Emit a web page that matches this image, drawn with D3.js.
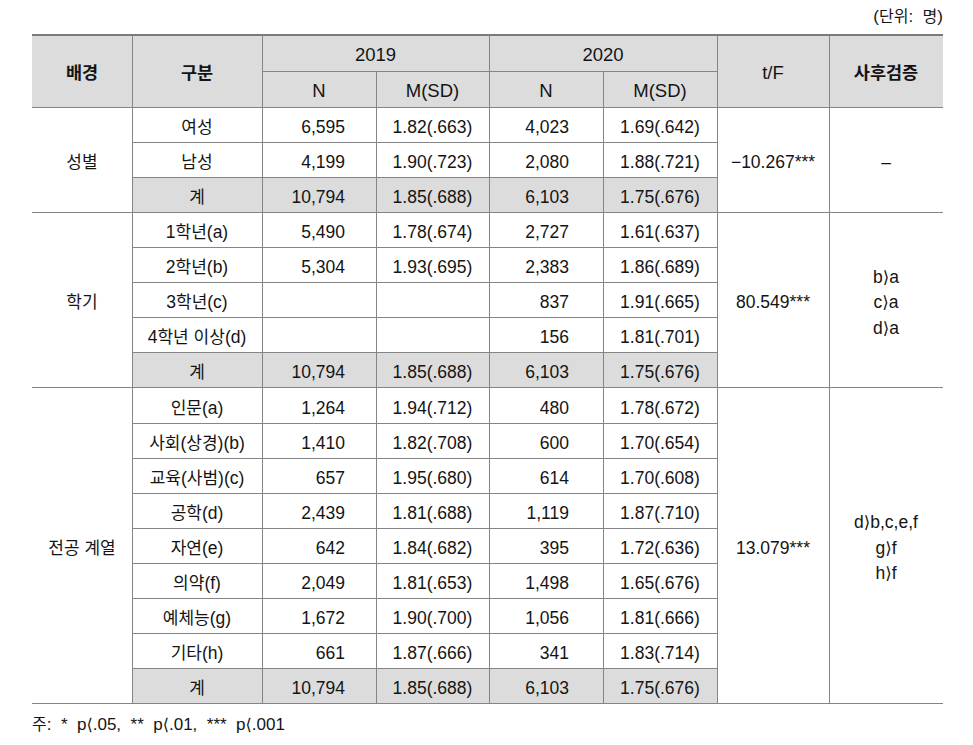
<!DOCTYPE html>
<html><head><meta charset="utf-8">
<script src="https://cdn.jsdelivr.net/npm/d3@7"></script>
<style>
html,body{margin:0;padding:0;background:#fff;}
svg{display:block;}
text{white-space:pre;}
</style></head>
<body>
<script>
// ---- data ----
const groups = ['성별', '학기', '전공 계열'];
const categories = ['여성','남성','계','1학년(a)','2학년(b)','3학년(c)','4학년 이상(d)','계',
  '인문(a)','사회(상경)(b)','교육(사범)(c)','공학(d)','자연(e)','의약(f)','예체능(g)','기타(h)','계'];
const groupOfRow = [0,0,0,1,1,1,1,1,2,2,2,2,2,2,2,2,2];
const n2019  = [6595,4199,10794,5490,5304,null,null,10794,1264,1410,657,2439,642,2049,1672,661,10794];
const m2019  = [1.82,1.90,1.85,1.78,1.93,null,null,1.85,1.94,1.82,1.95,1.81,1.84,1.81,1.90,1.87,1.85];
const sd2019 = [.663,.723,.688,.674,.695,null,null,.688,.712,.708,.680,.688,.682,.653,.700,.666,.688];
const n2020  = [4023,2080,6103,2727,2383,837,156,6103,480,600,614,1119,395,1498,1056,341,6103];
const m2020  = [1.69,1.88,1.75,1.61,1.86,1.91,1.81,1.75,1.78,1.70,1.70,1.87,1.72,1.65,1.81,1.83,1.75];
const sd2020 = [.642,.721,.676,.637,.689,.665,.701,.676,.672,.654,.608,.710,.636,.676,.666,.714,.676];
const tF = ['−10.267***', '80.549***', '13.079***'];
const postHoc = [['–'], ['b⟩a','c⟩a','d⟩a'], ['d⟩b,c,e,f','g⟩f','h⟩f']];
const headerTop = ['배경','구분','2019','2020','t/F','사후검증'];
const headerSub = ['N','M(SD)','N','M(SD)'];
const unitLabel = '(단위:  명)';
const footnote = '주:  *  p⟨.05,  **  p⟨.01,  ***  p⟨.001';

// ---- layout ----
const W = 973, H = 745;
const colX = [32,132,262,376,489,603,717,829,943];
const yTop = 35, ySub = 71, yHead = 107, yBottom = 703;
const LINE = '#858585', FILL = '#dcdcdc', INK = '#141414';
const KF = '"Noto Sans CJK KR","Noto Sans",sans-serif';
const LF = '"Liberation Sans",Arial,sans-serif';
const SF = '"DejaVu Sans","Liberation Sans",sans-serif';

const svg = d3.select('body').append('svg').attr('width', W).attr('height', H);
const rowY = d3.scaleBand().domain(d3.range(categories.length)).range([yHead, yBottom]);
const fmtN = d3.format(',');
const fmtMSD = (m, s) => m == null ? '' : `${d3.format('.2f')(m)}(${d3.format('.3f')(s).slice(1)})`;

function addText(g, str, x, y, anchor, opt = {}) {
  const t = g.append('text').attr('x', x).attr('y', y).attr('text-anchor', anchor).attr('fill', INK);
  const runs = str.match(/[\uAC00-\uD7A3]+|[⟨⟩]|[^\uAC00-\uD7A3⟨⟩]+/g) || [];
  runs.forEach(r => {
    const k = /[\uAC00-\uD7A3]/.test(r);
    const s = /[⟨⟩]/.test(r);
    t.append('tspan').text(r)
      .attr('font-family', k ? KF : s ? SF : LF)
      .attr('font-size', k ? (opt.ks || 17) : s ? (opt.ls || 17.5) * 0.95 : (opt.ls || 17.5))
      .attr('font-weight', k ? (opt.kw || 'normal') : (opt.lw || 'normal'));
  });
  return t;
}

// ---- fills ----
svg.append('rect').attr('x', colX[0]).attr('y', yTop).attr('width', colX[8]-colX[0]).attr('height', yHead-yTop).attr('fill', FILL);
svg.selectAll('rect.total').data(d3.range(categories.length).filter(i => categories[i] === '계')).join('rect')
  .attr('class','total').attr('x', colX[1]).attr('y', i => rowY(i)).attr('width', colX[6]-colX[1])
  .attr('height', rowY.bandwidth()).attr('fill', FILL);

// ---- lines ----
const lines = svg.append('g').attr('stroke', LINE).attr('stroke-width', 1).attr('shape-rendering','crispEdges');
const hline = (y, x1, x2, w=1) => lines.append('line').attr('x1', x1).attr('x2', x2)
  .attr('y1', Math.round(y)+0.5).attr('y2', Math.round(y)+0.5).attr('stroke-width', w);
lines.append('line').attr('x1', colX[0]).attr('x2', colX[8]).attr('y1', yTop).attr('y2', yTop).attr('stroke-width', 2.5).attr('stroke', '#7a7a7a');
hline(ySub, colX[2], colX[6]);
hline(yHead, colX[0], colX[8]);
d3.range(1, categories.length).forEach(i => {
  const newGroup = groupOfRow[i] !== groupOfRow[i-1];
  hline(rowY(i), newGroup ? colX[0] : colX[1], newGroup ? colX[8] : colX[6]);
});
hline(yBottom, colX[0], colX[8]);
[1,2,4,6,7].forEach(c => lines.append('line').attr('x1', colX[c]+0.5).attr('x2', colX[c]+0.5).attr('y1', yTop).attr('y2', yBottom+0.5));
[3,5].forEach(c => lines.append('line').attr('x1', colX[c]+0.5).attr('x2', colX[c]+0.5).attr('y1', ySub).attr('y2', yBottom+0.5));

// ---- header text ----
const T = svg.append('g');
const mid = c => (colX[c] + colX[c+1]) / 2;
const hdrOpt = {ks: 17.5, kw: 'bold', ls: 18.5};
addText(T, headerTop[0], mid(0), 79, 'middle', hdrOpt);
addText(T, headerTop[1], mid(1), 79, 'middle', hdrOpt);
addText(T, headerTop[2], (colX[2]+colX[4])/2, 61, 'middle', hdrOpt);
addText(T, headerTop[3], (colX[4]+colX[6])/2, 61, 'middle', hdrOpt);
addText(T, headerTop[4], mid(6), 79, 'middle', hdrOpt);
addText(T, headerTop[5], mid(7), 79, 'middle', hdrOpt);
headerSub.forEach((s, i) => addText(T, s, mid(2+i), 97, 'middle', hdrOpt));

// ---- body text ----
const base = i => rowY(i) + rowY.bandwidth()/2 + 8.5;
categories.forEach((c, i) => {
  addText(T, c, mid(1), base(i), 'middle');
  if (n2019[i] != null) addText(T, fmtN(n2019[i]), colX[3]-31, base(i), 'end');
  addText(T, fmtMSD(m2019[i], sd2019[i]), mid(3), base(i), 'middle');
  if (n2020[i] != null) addText(T, fmtN(n2020[i]), colX[5]-34, base(i), 'end');
  addText(T, fmtMSD(m2020[i], sd2020[i]), mid(5), base(i), 'middle');
});
groups.forEach((g, gi) => {
  const rows = d3.range(categories.length).filter(i => groupOfRow[i] === gi);
  const top = rowY(rows[0]), bot = rowY(rows[rows.length-1]) + rowY.bandwidth();
  const cy = (top + bot) / 2 + 8.5;
  addText(T, g, mid(0), cy, 'middle');
  addText(T, tF[gi], mid(6), cy, 'middle');
  const lh = 25.3, n = postHoc[gi].length;
  postHoc[gi].forEach((p, k) => addText(T, p, mid(7), cy + (k - (n-1)/2) * lh, 'middle'));
});

// ---- unit & footnote ----
addText(T, unitLabel, 943, 22, 'end', {ks: 16, ls: 17});
addText(T, footnote, 32, 730, 'start', {ks: 16, ls: 17});
</script>
</body></html>
